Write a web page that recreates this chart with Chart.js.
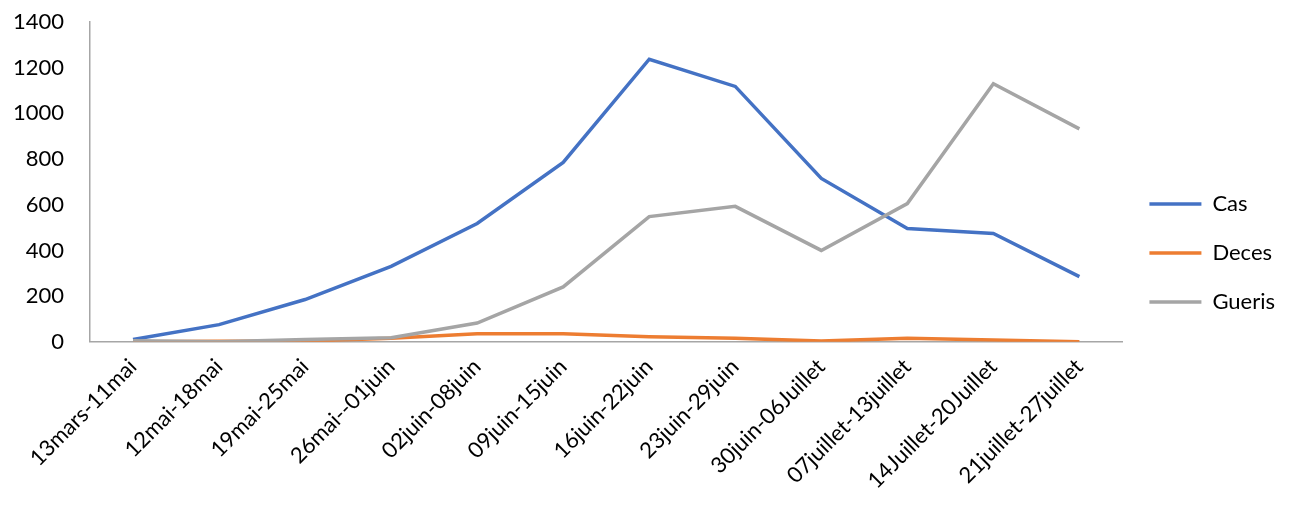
<!DOCTYPE html>
<html>
<head>
<meta charset="utf-8">
<script src="https://cdn.jsdelivr.net/npm/chart.js@4.4.0/dist/chart.umd.min.js"></script>
<style>
  html, body { margin: 0; padding: 0; background: #fff; }
  #wrap { width: 1296px; height: 512px; }
</style>
</head>
<body>
<div id="wrap"><canvas id="chart" width="1296" height="512"></canvas></div>
<script>
const categories = [
    '13mars-11mai', '12mai-18mai', '19mai-25mai', '26mai--01juin',
    '02juin-08juin', '09juin-15juin', '16juin-22juin', '23juin-29juin',
    '30juin-06Juillet', '07juillet-13juillet', '14Juillet-20Juillet', '21juillet-27juillet'
];
const cas = [10, 75, 185, 330, 518, 785, 1237, 1118, 715, 496, 474, 285];
const deces = [0, 2, 3, 15, 35, 35, 22, 15, 3, 15, 8, 0];
const gueris = [5, 0, 10, 18, 82, 240, 548, 593, 400, 605, 1130, 932];
const yTicks = [0, 200, 400, 600, 800, 1000, 1200, 1400];

const font = 'Lato';

function series(label, data, color, order) {
    return {
        label: label,
        data: data,
        borderColor: color,
        backgroundColor: color,
        borderWidth: 3.5,
        pointRadius: 0,
        tension: 0,
        order: order
    };
}

new Chart(document.getElementById('chart'), {
    type: 'line',
    data: {
        labels: categories,
        datasets: [
            series('Cas', cas, '#4472C4', 2),
            series('Deces', deces, '#ED7D31', 1),
            series('Gueris', gueris, '#A5A5A5', 0)
        ]
    },
    options: {
        responsive: false,
        devicePixelRatio: 1,
        animation: false,
        layout: { padding: { top: 0, left: 12, right: 11, bottom: 6 } },
        plugins: {
            tooltip: { enabled: false },
            legend: {
                position: 'right',
                labels: {
                    usePointStyle: true,
                    pointStyle: 'line',
                    pointStyleWidth: 52,
                    padding: 27,
                    color: '#000',
                    font: { family: font, size: 22 },
                    sort: (a, b) => a.datasetIndex - b.datasetIndex
                }
            }
        },
        scales: {
            x: {
                offset: true,
                grid: { display: false, drawTicks: false },
                border: { display: true, color: '#a6a6a6', width: 1.5 },
                afterFit: axis => { axis.paddingLeft = 0; axis.paddingRight = 0; },
                ticks: {
                    maxRotation: 45,
                    minRotation: 45,
                    autoSkip: false,
                    padding: 12,
                    color: '#000',
                    font: { family: font, size: 22 }
                }
            },
            y: {
                min: 0,
                max: 1400,
                afterBuildTicks: axis => { axis.ticks = yTicks.map(v => ({ value: v })); },
                afterFit: axis => { axis.width = 78; axis.paddingTop = 22; axis.paddingBottom = 0; },
                grid: { display: false, drawTicks: false },
                border: { display: true, color: '#a6a6a6', width: 1.5 },
                ticks: {
                    padding: 26,
                    color: '#000',
                    font: { family: font, size: 22 },
                    callback: v => String(v)
                }
            }
        }
    }
});
</script>
</body>
</html>
